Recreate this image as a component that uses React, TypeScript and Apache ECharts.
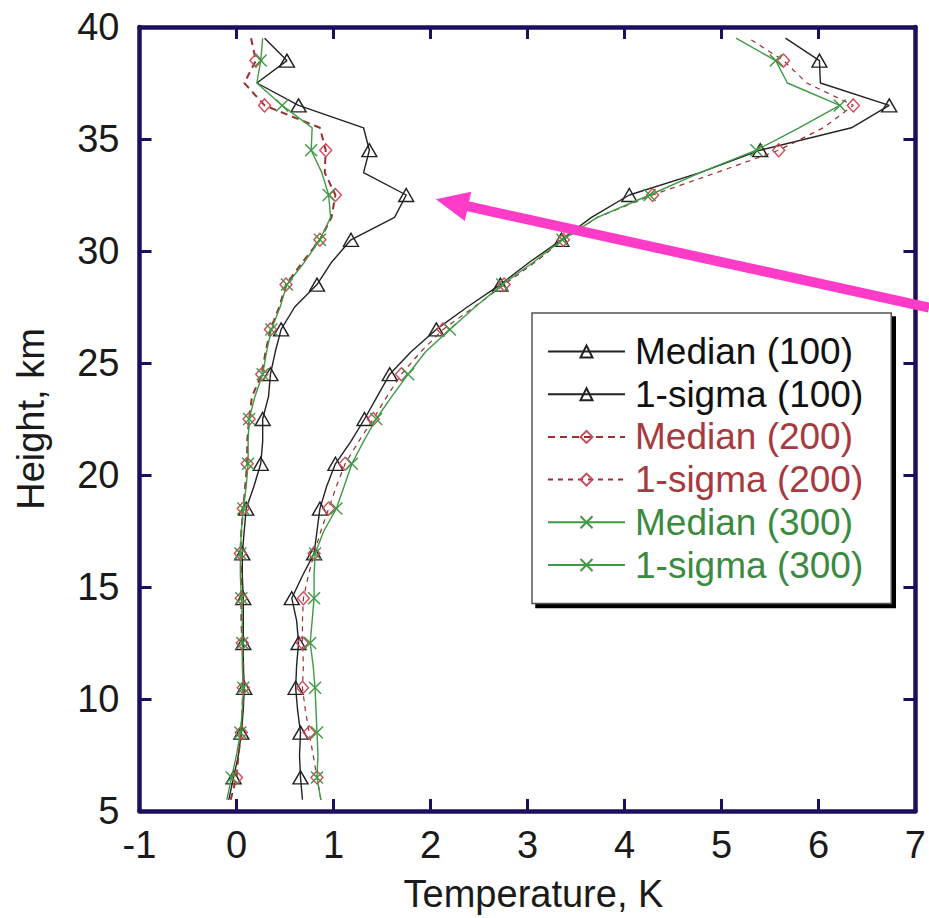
import React, { useEffect, useRef } from "react";
import * as echarts from "echarts";

// Heights (km) of the profile points
const heights = [
  5.5, 6.5, 7.5, 8.5, 9.5, 10.5, 11.5, 12.5, 13.5, 14.5, 15.5, 16.5, 17.5, 18.5, 19.5, 20.5, 21.5,
  22.5, 23.5, 24.5, 25.5, 26.5, 27.5, 28.5, 29.5, 30.5, 31.5, 32.5, 33.5, 34.5, 35.5, 36.5, 37.5,
  38.5, 39.5,
];
// Heights at which a marker is drawn
const markerHeights = [6.5, 8.5, 10.5, 12.5, 14.5, 16.5, 18.5, 20.5, 22.5, 24.5, 26.5, 28.5, 30.5, 32.5, 34.5, 36.5, 38.5];

// Temperature (K) values, one per height
const median100 = [
  -0.08, -0.03, 0.02, 0.05, 0.07, 0.08, 0.07, 0.07, 0.07, 0.07, 0.06, 0.06, 0.08, 0.1, 0.18, 0.25, 0.27,
  0.27, 0.33, 0.35, 0.4, 0.46, 0.6, 0.83, 0.98, 1.18, 1.63, 1.75, 1.31, 1.37, 1.31, 0.64, 0.21, 0.52, 0.29,
];
const sigma100 = [
  0.68, 0.66, 0.65, 0.66, 0.63, 0.61, 0.62, 0.64, 0.62, 0.57, 0.68, 0.8, 0.83, 0.86, 0.93, 1.02, 1.18,
  1.32, 1.45, 1.58, 1.8, 2.06, 2.38, 2.72, 3.02, 3.35, 3.66, 4.05, 4.78, 5.4, 6.34, 6.73, 6.02, 6.01, 5.66,
];
const median200 = [
  -0.06, 0.0, 0.02, 0.05, 0.06, 0.07, 0.07, 0.06, 0.05, 0.05, 0.05, 0.04, 0.05, 0.07, 0.09, 0.11, 0.11,
  0.13, 0.16, 0.26, 0.3, 0.35, 0.44, 0.51, 0.68, 0.86, 0.98, 1.02, 0.91, 0.92, 0.86, 0.29, 0.08, 0.2, 0.15,
];
const sigma200 = [
  0.87, 0.83, 0.79, 0.75, 0.71, 0.68, 0.69, 0.68, 0.68, 0.69, 0.74, 0.8, 0.87, 0.95, 1.03, 1.12, 1.26,
  1.41, 1.55, 1.7, 1.9, 2.13, 2.45, 2.76, 3.08, 3.37, 3.72, 4.29, 4.95, 5.59, 6.05, 6.36, 5.88, 5.64, 5.28,
];
const median300 = [
  -0.1, -0.05, 0.0, 0.04, 0.06, 0.07, 0.06, 0.06, 0.06, 0.05, 0.04, 0.04, 0.05, 0.07, 0.1, 0.12, 0.12,
  0.13, 0.19, 0.27, 0.31, 0.36, 0.45, 0.52, 0.7, 0.86, 0.97, 0.95, 0.88, 0.77, 0.78, 0.47, 0.21, 0.25, 0.27,
];
const sigma300 = [
  0.87, 0.83, 0.84, 0.83, 0.82, 0.81, 0.79, 0.76, 0.78, 0.8, 0.8, 0.81, 0.9, 1.03, 1.11, 1.19, 1.31,
  1.44, 1.6, 1.77, 1.95, 2.2, 2.46, 2.74, 3.06, 3.36, 3.72, 4.26, 4.78, 5.36, 5.8, 6.22, 5.68, 5.56, 5.15,
];

const seriesNames = ["Median (100)", "1-sigma (100)", "Median (200)", "1-sigma (200)", "Median (300)", "1-sigma (300)"];

// Annotation arrow (data coordinates): tail -> tip
const arrowTail = [7.14, 27.47];
const arrowTip = [2.055, 32.31];

const FONT = "'Liberation Sans', Arial, Helvetica, sans-serif";
const AXIS_COLOR = "#1d0f5e";
const BLACK = "#222222";
const RED_LINE = "#9a2f2f";
const RED_MARK = "#d2485a";
const GREEN = "#3f9a45";
const RED_TEXT = "#a8393f";
const GREEN_TEXT = "#3a8a3f";
const X_PATH = "path://M0,0L10,10M10,0L0,10";

function buildData(vals: number[]) {
  return heights.map((h, i) =>
    markerHeights.indexOf(h) >= 0 ? { value: [vals[i], h] } : { value: [vals[i], h], symbol: "none" }
  );
}

export default function App() {
  const ref = useRef<HTMLDivElement>(null);
  useEffect(() => {
    if (!ref.current) return;
    const chart = echarts.init(ref.current, null, { renderer: "svg" });

    const axisCommon = {
      type: "value",
      axisLine: { show: true, onZero: false, lineStyle: { color: AXIS_COLOR, width: 4.5 } },
      axisTick: { show: true, inside: true, length: 12, lineStyle: { color: AXIS_COLOR, width: 3 } },
      splitLine: { show: false },
    };

    const mk = (
      idx: number,
      vals: number[],
      symbol: string,
      symbolSize: number | number[],
      lineColor: string,
      markColor: string,
      lineType: any,
      lineWidth: number
    ) => ({
      name: seriesNames[idx],
      type: "line",
      xAxisIndex: 0,
      yAxisIndex: 0,
      data: buildData(vals),
      symbol,
      symbolSize,
      showAllSymbol: true,
      lineStyle: { color: lineColor, width: lineWidth, type: lineType },
      itemStyle: { color: "rgba(255,255,255,0)", borderColor: markColor, borderWidth: 1.4 },
      emphasis: { disabled: true },
      z: 2 + idx,
    });

    const option: any = {
      animation: false,
      backgroundColor: "#ffffff",
      textStyle: { fontFamily: FONT },
      grid: { left: 139.5, top: 27, right: 7, bottom: 107, containLabel: false },
      xAxis: [
        {
          ...axisCommon,
          min: -1,
          max: 7,
          interval: 1,
          position: "bottom",
          name: "Temperature, K",
          nameLocation: "middle",
          nameGap: 64,
          nameTextStyle: { fontSize: 38, color: "#1a1a1a", fontFamily: FONT, padding: [0, 0, 0, 12] },
          axisLabel: { fontSize: 38, color: "#1a1a1a", fontFamily: FONT, margin: 15 },
        },
        {
          ...axisCommon,
          min: -1,
          max: 7,
          interval: 1,
          position: "top",
          axisLabel: { show: false },
        },
      ],
      yAxis: [
        {
          ...axisCommon,
          min: 5,
          max: 40,
          interval: 5,
          position: "left",
          name: "Height, km",
          nameLocation: "middle",
          nameGap: 90,
          nameTextStyle: { fontSize: 38, color: "#1a1a1a", fontFamily: FONT },
          axisLabel: { fontSize: 38, color: "#1a1a1a", fontFamily: FONT, margin: 20 },
        },
        {
          ...axisCommon,
          min: 5,
          max: 40,
          interval: 5,
          position: "right",
          axisLabel: { show: false },
        },
      ],
      legend: {
        orient: "vertical",
        left: 532,
        top: 313,
        z: 20,
        backgroundColor: "#ffffff",
        borderColor: "#555555",
        borderWidth: 1.5,
        borderRadius: 0,
        padding: [20, 28, 20, 15],
        itemWidth: 77,
        itemHeight: 15,
        itemGap: 5.7,
        selectedMode: false,
        textStyle: { fontSize: 37, fontFamily: FONT, padding: [0, 0, 0, 5] },
        data: [
          { name: seriesNames[0], textStyle: { color: "#111111" } },
          { name: seriesNames[1], textStyle: { color: "#111111" } },
          { name: seriesNames[2], textStyle: { color: RED_TEXT } },
          { name: seriesNames[3], textStyle: { color: RED_TEXT } },
          { name: seriesNames[4], textStyle: { color: GREEN_TEXT } },
          { name: seriesNames[5], textStyle: { color: GREEN_TEXT } },
        ],
      },
      series: [
        mk(0, median100, "triangle", [15, 13], BLACK, BLACK, "solid", 1.4),
        mk(1, sigma100, "triangle", [15, 13], BLACK, BLACK, "solid", 1.4),
        mk(2, median200, "diamond", [12, 13], RED_LINE, RED_MARK, [7, 5], 2),
        mk(3, sigma200, "diamond", [12, 13], RED_LINE, RED_MARK, [5, 5], 1.2),
        mk(4, median300, X_PATH, 12, GREEN, GREEN, "solid", 1.4),
        mk(5, sigma300, X_PATH, 12, GREEN, GREEN, "solid", 1.4),
      ],
    };

    chart.setOption(option);

    // Hard drop shadow behind the legend box, sized from the legend's own layout
    const legendView: any = (chart as any).getViewOfComponentModel
      ? (chart as any).getViewOfComponentModel((chart as any).getModel().getComponent("legend"))
      : null;
    let lb = { x: 532, y: 313, width: 358, height: 291 };
    try {
      if (legendView && legendView.group) {
        const r = legendView.group.getBoundingRect();
        const g = legendView.group;
        lb = { x: g.x + r.x, y: g.y + r.y, width: r.width, height: r.height };
      }
    } catch (e) {}

    // Arrow annotation, positioned through the chart's own coordinate system
    const tip = chart.convertToPixel({ seriesIndex: 0 }, arrowTip) as number[];
    const tail = chart.convertToPixel({ seriesIndex: 0 }, arrowTail) as number[];
    const dx = tail[0] - tip[0];
    const dy = tail[1] - tip[1];
    const len = Math.sqrt(dx * dx + dy * dy);
    const ux = dx / len;
    const uy = dy / len;
    const headLen = 33;
    const headHalf = 15;
    const bx = tip[0] + ux * headLen;
    const by = tip[1] + uy * headLen;
    const pink = "#ff3cc8";
    chart.setOption({
      graphic: [
        {
          type: "rect",
          z: 19,
          shape: { x: lb.x + 4, y: lb.y + 4, width: lb.width, height: lb.height },
          style: { fill: "#000000" },
          silent: true,
        },
        {
          type: "line",
          z: 100,
          shape: { x1: bx - ux * 2, y1: by - uy * 2, x2: tail[0], y2: tail[1] },
          style: { stroke: pink, lineWidth: 10 },
          silent: true,
        },
        {
          type: "polygon",
          z: 100,
          shape: {
            points: [
              [tip[0], tip[1]],
              [bx - uy * headHalf, by + ux * headHalf],
              [bx + uy * headHalf, by - ux * headHalf],
            ],
          },
          style: { fill: pink },
          silent: true,
        },
      ],
    });

    return () => chart.dispose();
  }, []);

  return (
    <div
      ref={ref}
      style={{ position: "absolute", left: 0, top: 0, width: 929, height: 918, background: "#fff" }}
    />
  );
}
